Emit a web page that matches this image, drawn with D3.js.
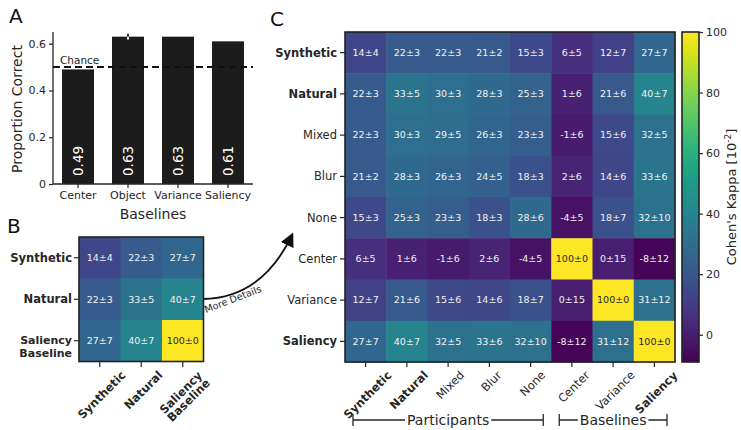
<!DOCTYPE html>
<html><head><meta charset="utf-8">
<script src="https://cdn.jsdelivr.net/npm/d3@7"></script>
<style>body{margin:0;background:#fff} text{font-family:"DejaVu Sans",sans-serif;fill:#262626}</style>
</head><body><svg id="c" width="741" height="430" xmlns="http://www.w3.org/2000/svg"></svg>
<script>
// ---------- data ----------
const barCats = ["Center", "Object", "Variance", "Saliency"];
const barVals = [0.49, 0.63, 0.63, 0.61];
const barErrs = [0, 0.012, 0, 0];
const barTicks = [0, 0.2, 0.4, 0.6];
const chanceLevel = 0.5;

const labelsC = ["Synthetic", "Natural", "Mixed", "Blur", "None", "Center", "Variance", "Saliency"];
const boldC = [true, true, false, false, false, false, false, true];
const kappaMean = [
  [14, 22, 22, 21, 15, 6, 12, 27],
  [22, 33, 30, 28, 25, 1, 21, 40],
  [22, 30, 29, 26, 23, -1, 15, 32],
  [21, 28, 26, 24, 18, 2, 14, 33],
  [15, 25, 23, 18, 28, -4, 18, 32],
  [6, 1, -1, 2, -4, 100, 0, -8],
  [12, 21, 15, 14, 18, 0, 100, 31],
  [27, 40, 32, 33, 32, -8, 31, 100]
];
const kappaSd = [
  [4, 3, 3, 2, 3, 5, 7, 7],
  [3, 5, 3, 3, 3, 6, 6, 7],
  [3, 3, 5, 3, 3, 6, 6, 5],
  [2, 3, 3, 5, 3, 6, 6, 6],
  [3, 3, 3, 3, 6, 5, 7, 10],
  [5, 6, 6, 6, 5, 0, 15, 12],
  [7, 6, 6, 6, 7, 15, 0, 12],
  [7, 7, 5, 6, 10, 12, 12, 0]
];
const labelsB = [["Synthetic"], ["Natural"], ["Saliency", "Baseline"]];
const kappaMeanB = [[14, 22, 27], [22, 33, 40], [27, 40, 100]];
const kappaSdB = [[4, 3, 7], [3, 5, 7], [7, 7, 0]];
const cbarTicks = [0, 20, 40, 60, 80, 100];
const cbarDomain = [-9, 100];
const groupNames = ["Participants", "Baselines"];
const groupSpans = [[0, 4], [5, 7]];

// ---------- setup ----------
const svg = d3.select("#c");
const ink = "#262626";
const color = d3.scaleSequential(d3.interpolateViridis).domain(cbarDomain);
const fmt = (m, s) => `${m}\u00b1${s}`;

function rotLabel(g, lines, tx, ty, bold, size) {
  const grp = g.append("g");
  const inner = grp.append("g").attr("transform", "rotate(-45)");
  const t = inner.append("text").attr("text-anchor", "middle")
    .attr("font-size", size).attr("font-weight", bold ? "bold" : "normal");
  lines.forEach((l, i) => t.append("tspan").attr("x", 0).attr("y", i * size * 0.95).text(l));
  const r = grp.node().getBoundingClientRect();
  grp.attr("transform", `translate(${tx - (r.left + r.right) / 2 + 2},${ty - r.top})`);
}

// ---------- Panel A ----------
const gA = svg.append("g");
const xA = d3.scaleBand().domain(barCats).range([53, 253]).paddingInner(0.36).paddingOuter(0.18);
const yA = d3.scaleLinear().domain([0, 0.65]).range([184, 32]);

gA.selectAll("rect.bar").data(barCats).join("rect")
  .attr("x", d => xA(d)).attr("width", xA.bandwidth())
  .attr("y", (d, i) => yA(barVals[i])).attr("height", (d, i) => yA(0) - yA(barVals[i]))
  .attr("fill", "#1c1c1c");

// error bars
barCats.forEach((d, i) => {
  if (!barErrs[i]) return;
  const cx = xA(d) + xA.bandwidth() / 2;
  gA.append("line").attr("x1", cx).attr("x2", cx)
    .attr("y1", yA(barVals[i])).attr("y2", yA(barVals[i] - barErrs[i]))
    .attr("stroke", "#fff").attr("stroke-width", 1.8);
  gA.append("line").attr("x1", cx).attr("x2", cx)
    .attr("y1", yA(barVals[i])).attr("y2", yA(barVals[i] + barErrs[i]))
    .attr("stroke", ink).attr("stroke-width", 1.8);
});

// value labels
barCats.forEach((d, i) => {
  const cx = xA(d) + xA.bandwidth() / 2;
  gA.append("text").attr("transform", `translate(${cx + 5},176) rotate(-90)`)
    .attr("font-size", 13.5).style("fill", "#fff").text(barVals[i].toFixed(2));
});

// chance line
gA.append("line").attr("x1", 53).attr("x2", 253)
  .attr("y1", yA(chanceLevel)).attr("y2", yA(chanceLevel))
  .attr("stroke", "#111").attr("stroke-width", 2).attr("stroke-dasharray", "7,4");
gA.append("text").attr("x", 60).attr("y", yA(chanceLevel) - 3).attr("font-size", 10.5).text("Chance");

// axes
const axL = gA.append("g").attr("transform", "translate(53,0)")
  .call(d3.axisLeft(yA).tickValues(barTicks).tickFormat(d => d === 0 ? "0" : d.toFixed(1)).tickSize(4).tickPadding(3));
const axB = gA.append("g").attr("transform", "translate(0,184)")
  .call(d3.axisBottom(xA).tickSize(4).tickPadding(3));
[axL, axB].forEach(a => {
  a.select(".domain").attr("stroke", ink).attr("stroke-width", 1.3);
  a.selectAll(".tick line").attr("stroke", ink).attr("stroke-width", 1.2);
  a.selectAll(".tick text").attr("font-size", 11).attr("font-family", "DejaVu Sans").style("fill", ink);
});
axL.select(".domain").attr("d", "M0,32V184");
axB.select(".domain").attr("d", "M53,0H253");
gA.append("text").attr("transform", "translate(22,109) rotate(-90)").attr("text-anchor", "middle")
  .attr("font-size", 14).text("Proportion Correct");
gA.append("text").attr("x", 153).attr("y", 219).attr("text-anchor", "middle")
  .attr("font-size", 14).text("Baselines");

// panel letters
svg.append("text").attr("x", 9).attr("y", 23).attr("font-size", 20).style("fill", "#111").text("A");
svg.append("text").attr("x", 7).attr("y", 233).attr("font-size", 20).style("fill", "#111").text("B");
svg.append("text").attr("x", 270).attr("y", 26).attr("font-size", 20).style("fill", "#111").text("C");

// ---------- heatmap helper ----------
function heatmap(g, x0, y0, size, mean, sd, n) {
  const xb = d3.scaleBand().domain(d3.range(n)).range([x0, x0 + size]);
  const yb = d3.scaleBand().domain(d3.range(n)).range([y0, y0 + size]);
  const cells = [];
  mean.forEach((row, i) => row.forEach((v, j) => cells.push({ i, j, v, s: sd[i][j] })));
  g.selectAll("rect.cell").data(cells).join("rect")
    .attr("x", d => xb(d.j)).attr("y", d => yb(d.i))
    .attr("width", xb.bandwidth() + 0.5).attr("height", yb.bandwidth() + 0.5)
    .attr("fill", d => color(d.v));
  g.selectAll("text.cell").data(cells).join("text")
    .attr("x", d => xb(d.j) + xb.bandwidth() / 2).attr("y", d => yb(d.i) + yb.bandwidth() / 2)
    .attr("dy", "0.35em").attr("text-anchor", "middle").attr("font-size", 9.5)
    .style("fill", d => d.v > 70 ? "#262626" : "#f2f2f2").text(d => fmt(d.v, d.s));
  g.append("rect").attr("x", x0).attr("y", y0).attr("width", size).attr("height", size)
    .attr("fill", "none").attr("stroke", "#222").attr("stroke-width", 1.6);
  return { xb, yb };
}

// ---------- Panel B ----------
const gB = svg.append("g");
const hb = heatmap(gB, 79, 237, 124.5, kappaMeanB, kappaSdB, 3);
labelsB.forEach((lines, i) => {
  const cy = hb.yb(i) + hb.yb.bandwidth() / 2;
  gB.append("line").attr("x1", 74).attr("x2", 79).attr("y1", cy).attr("y2", cy).attr("stroke", ink).attr("stroke-width", 1.2);
  const cx = hb.xb(i) + hb.xb.bandwidth() / 2;
  gB.append("line").attr("x1", cx).attr("x2", cx).attr("y1", 362).attr("y2", 367).attr("stroke", ink).attr("stroke-width", 1.2);
  const multi = lines.length > 1;
  const fs = multi ? 11 : 11.5, lh = 12.9;
  const off = multi ? 6 : 0;
  const t = gB.append("text").attr("text-anchor", "end").attr("font-size", fs).attr("font-weight", "bold");
  lines.forEach((l, k) => t.append("tspan").attr("x", 72)
    .attr("y", cy + off - (lines.length - 1) * lh / 2 + k * lh).attr("dy", "0.35em").text(l));
  rotLabel(gB, lines, cx, 368, true, 11.5);
});

// arrow
svg.append("defs").append("marker").attr("id", "ah").attr("viewBox", "0 0 10 10")
  .attr("refX", 8).attr("refY", 5).attr("markerWidth", 14).attr("markerHeight", 14)
  .attr("markerUnits", "userSpaceOnUse").attr("orient", "auto")
  .append("path").attr("d", "M0,0L10,5L0,10Z").attr("fill", "#111");
svg.append("path").attr("d", "M203,299 Q262,298 292,235").attr("fill", "none")
  .attr("stroke", "#111").attr("stroke-width", 1.8).attr("marker-end", "url(#ah)");
svg.append("text").attr("transform", "translate(206,313) rotate(-21)").attr("font-size", 9.6).text("More Details");

// ---------- Panel C ----------
const gC = svg.append("g");
const hc = heatmap(gC, 345, 32, 330, kappaMean, kappaSd, 8);
labelsC.forEach((l, i) => {
  const cy = hc.yb(i) + hc.yb.bandwidth() / 2;
  gC.append("line").attr("x1", 340).attr("x2", 345).attr("y1", cy).attr("y2", cy).attr("stroke", ink).attr("stroke-width", 1.2);
  gC.append("text").attr("x", 337).attr("y", cy).attr("dy", "0.35em").attr("text-anchor", "end")
    .attr("font-size", 11.5).attr("font-weight", boldC[i] ? "bold" : "normal").text(l);
  const cx = hc.xb(i) + hc.xb.bandwidth() / 2;
  gC.append("line").attr("x1", cx).attr("x2", cx).attr("y1", 362).attr("y2", 367).attr("stroke", ink).attr("stroke-width", 1.2);
  rotLabel(gC, [l], cx, 368, boldC[i], 11.5);
});

// group brackets
groupNames.forEach((name, k) => {
  const [a, b] = groupSpans[k];
  const xa = hc.xb(a) + 8, xe = hc.xb(b) + hc.xb.bandwidth() - 8;
  const y = 420, mid = (xa + xe) / 2;
  const t = gC.append("text").attr("x", mid).attr("y", y + 5).attr("text-anchor", "middle").attr("font-size", 14).text(name);
  const w = t.node().getComputedTextLength() / 2 + 2;
  gC.append("path").attr("d", `M${xa},${y - 6}V${y + 6}M${xa},${y}H${mid - w}M${mid + w},${y}H${xe}M${xe},${y - 6}V${y + 6}`)
    .attr("fill", "none").attr("stroke", ink).attr("stroke-width", 1.3);
});

// ---------- colorbar ----------
const gCb = svg.append("g");
const cbY = d3.scaleLinear().domain(cbarDomain).range([362, 32]);
const grad = svg.select("defs").append("linearGradient").attr("id", "cb")
  .attr("x1", 0).attr("y1", 1).attr("x2", 0).attr("y2", 0);
d3.range(0, 1.0001, 0.05).forEach(t => grad.append("stop").attr("offset", t)
  .attr("stop-color", color(cbarDomain[0] + t * (cbarDomain[1] - cbarDomain[0]))));
gCb.append("rect").attr("x", 682).attr("y", 32).attr("width", 17).attr("height", 330)
  .attr("fill", "url(#cb)").attr("stroke", "#222").attr("stroke-width", 1.6);
const axCb = gCb.append("g").attr("transform", "translate(699,0)")
  .call(d3.axisRight(cbY).tickValues(cbarTicks).tickSize(4).tickPadding(3));
axCb.select(".domain").remove();
axCb.selectAll(".tick line").attr("stroke", ink).attr("stroke-width", 1.2);
axCb.selectAll(".tick text").attr("font-size", 11).attr("font-family", "DejaVu Sans").style("fill", ink);
const cbl = gCb.append("text").attr("transform", "translate(736,197) rotate(-90)").attr("text-anchor", "middle").attr("font-size", 13);
cbl.append("tspan").text("Cohen's Kappa [10");
cbl.append("tspan").attr("font-size", 9).attr("dy", -5).text("-2");
cbl.append("tspan").attr("dy", 5).text("]");
</script></body></html>
